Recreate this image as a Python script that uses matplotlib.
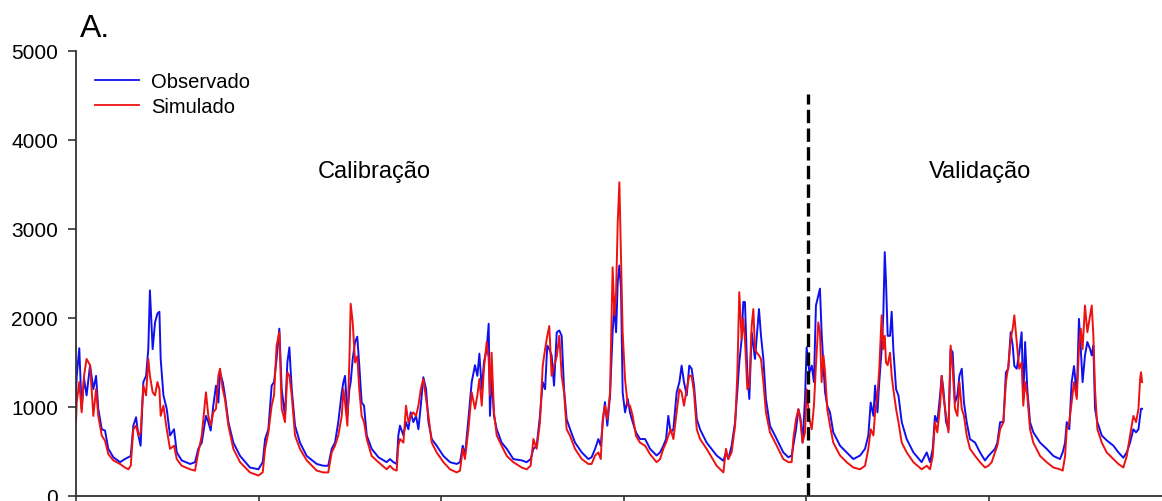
import matplotlib
matplotlib.use("Agg")
import matplotlib.pyplot as plt

# ---- data (day index since start of series) ----
days = [0, 4, 18, 31, 44, 58, 77, 95, 110, 122, 141, 159, 177, 205, 241, 268, 287, 300,
        314, 329, 342, 354, 369, 384, 396, 405, 420, 433, 446, 457, 464, 479, 497, 515, 537,
        552, 579, 625, 652, 670, 689, 712, 725, 738, 752, 767, 780, 789, 804, 816, 835, 862,
        899, 953, 999, 1023, 1036, 1054, 1072, 1085, 1099, 1114, 1127, 1145, 1158, 1169, 1182,
        1200, 1227, 1264, 1319, 1355, 1382, 1401, 1419, 1437, 1456,
        1465, 1474, 1487, 1498, 1505, 1516, 1529, 1541, 1552, 1565, 1578, 1593, 1620, 1657,
        1702, 1720, 1739, 1757, 1766, 1775, 1794, 1808, 1821, 1834, 1848, 1863, 1876, 1889,
        1903, 1918, 1931, 1949, 1976, 2013, 2049, 2086, 2104, 2119, 2131, 2150, 2168, 2186,
        2199, 2210, 2223, 2235, 2250, 2261, 2268, 2277, 2290, 2305, 2332, 2360, 2396, 2442,
        2469, 2491, 2506, 2524, 2542, 2557, 2570, 2582, 2593, 2606, 2619, 2634, 2648, 2661,
        2674, 2688, 2707, 2734, 2771, 2807, 2825, 2844, 2862, 2875, 2886, 2898, 2911, 2926,
        2940, 2950, 2959, 2968, 2977, 2986, 2995, 3008, 3023, 3035, 3050, 3068, 3090, 3118,
        3145, 3181, 3200, 3218, 3233, 3245, 3258, 3273, 3291, 3306, 3318, 3331, 3346, 3360,
        3373, 3386, 3401, 3419, 3455, 3510, 3547, 3561, 3574, 3592, 3611, 3623, 3634, 3647,
        3656, 3665, 3678, 3689, 3702, 3711, 3720, 3729, 3742, 3753, 3766, 3780, 3802, 3839,
        3875, 3903, 3921, 3930, 3945, 3958, 3970, 3981, 3994, 4003, 4018, 4031, 4043, 4054,
        4067, 4076, 4085, 4095, 4104, 4116, 4131, 4149, 4186, 4222, 4259,
        4296, 4323, 4341, 4354, 4369, 4378, 4391, 4401, 4414, 4423, 4431, 4438, 4447, 4460,
        4469, 4478, 4493, 4506, 4524, 4551, 4588, 4633, 4661, 4679, 4694, 4706, 4719, 4734,
        4743, 4752, 4767, 4780, 4792, 4803, 4816, 4829, 4840, 4853, 4865, 4880, 4898, 4926,
        4953, 4980, 4999, 5017, 5035, 5048, 5063, 5081, 5095, 5108, 5121, 5132, 5141, 5154,
        5168, 5181, 5190, 5200, 5212, 5227, 5245, 5282, 5318, 5355, 5391, 5406, 5419, 5428,
        5442, 5455, 5468, 5483, 5495, 5505, 5515, 5528, 5541, 5556, 5565, 5574, 5583, 5596,
        5620, 5647, 5684, 5711, 5738, 5757, 5775, 5793, 5808, 5821, 5830, 5835, 5841]

observado = [1130, 1350, 1660, 980, 1320, 1130, 1470, 1200, 1350, 980, 750, 735, 530, 435, 380, 415, 435, 450,
             790, 885, 680, 565, 1280, 1350, 1650, 2310, 1650, 1950, 2050, 2070, 1540, 1130, 980, 680, 750,
             490, 400, 360, 380, 530, 600, 900, 830, 735, 1015, 1240, 1050, 1390, 1280, 1130, 830, 600,
             450, 320, 300, 380, 640, 750, 1240, 1280, 1540, 1880, 1200, 900, 1500, 1670, 1200,
             790, 600, 450, 360, 340, 340, 530, 600, 830, 1165,
             1280, 1350, 900, 1200, 1280, 1540, 1730, 1790, 1470, 1050, 1015, 680, 530, 435,
             380, 415, 380, 360, 680, 790, 680, 830, 750, 940, 830, 900, 750, 1015,
             1335, 1200, 830, 640, 565, 450, 380, 360, 380, 565, 450, 865, 1280, 1470,
             1350, 1600, 1200, 1500, 1650, 1935, 900, 1350, 900, 750, 600, 530, 415, 400,
             380, 415, 530, 565, 900, 1280, 1200, 1690, 1650, 1580, 1240, 1840, 1860, 1800,
             1200, 865, 750, 600, 490, 415, 435, 530, 640, 565, 830, 1055, 790, 1130,
             1840, 2140, 1840, 2400, 2590, 2330, 1165, 940, 1090, 940, 830, 715, 640, 640,
             530, 455, 490, 565, 640, 900, 715, 750, 1165, 1280, 1465, 1280, 1130, 1465,
             1430, 1240, 865, 750, 600, 455, 395, 490, 415, 565, 830, 1165, 1500, 1765,
             2180, 2180, 1390, 1090, 1840, 1690, 1540, 1765, 2100, 1800, 1540, 1090, 790, 640,
             490, 435, 455, 565, 750, 975, 865, 600, 1090, 1670, 1390, 1465, 1280, 2140,
             2250, 2330, 1840, 1465, 1165, 1015, 940, 715, 565, 490, 415,
             455, 530, 680, 1050, 900, 1240, 940, 1280, 1650, 2030, 2740, 2400, 1800, 1800,
             2070, 1650, 1200, 1130, 830, 640, 490, 380, 490, 380, 530, 900, 830, 1130,
             1350, 1200, 830, 750, 1650, 1615, 1050, 1130, 1350, 1430, 1050, 830, 640, 600,
             490, 400, 450, 490, 530, 600, 830, 830, 1390, 1430, 1840, 1690, 1460, 1430,
             1610, 1840, 1090, 1730, 1200, 830, 715, 600, 530, 450, 415, 490, 600, 830,
             750, 1280, 1460, 1130, 1990, 1650, 1280, 1580, 1730, 1650, 1580, 1690, 980, 830,
             680, 625, 565, 490, 430, 490, 600, 750, 715, 750, 900, 980, 980]

simulado = [830, 1050, 1280, 940, 1350, 1540, 1470, 900, 1200, 900, 680, 620, 470, 400, 360, 320, 300, 340,
            750, 790, 680, 715, 1240, 1130, 1540, 1350, 1165, 1130, 1280, 1200, 900, 1015, 750, 530, 565,
            415, 340, 300, 285, 490, 680, 1165, 900, 790, 940, 980, 1350, 1430, 1200, 1090, 790, 530,
            380, 265, 230, 265, 530, 715, 1015, 1130, 1690, 1840, 980, 830, 1390, 1350, 1130,
            680, 530, 400, 285, 265, 265, 490, 565, 680, 900,
            1200, 1050, 790, 1540, 2160, 1950, 1500, 1570, 1200, 900, 830, 640, 450, 380,
            300, 340, 300, 285, 565, 640, 600, 1015, 830, 900, 940, 900, 1015, 1200,
            1315, 1090, 900, 600, 490, 380, 300, 265, 285, 530, 415, 750, 1165, 980,
            1130, 1315, 1015, 1430, 1730, 1540, 1130, 1610, 940, 680, 565, 450, 380, 320,
            300, 340, 640, 530, 830, 1460, 1650, 1800, 1910, 1350, 1460, 1570, 1800, 1350,
            1165, 750, 675, 530, 415, 360, 360, 455, 490, 415, 865, 1015, 865, 1165,
            2570, 2030, 2290, 3075, 3525, 2665, 1840, 1315, 1015, 1015, 900, 675, 600, 565,
            470, 380, 415, 530, 600, 675, 750, 640, 940, 1200, 1165, 1015, 1200, 1350,
            1350, 1165, 750, 640, 530, 340, 265, 530, 415, 490, 790, 1350, 2290, 1765,
            1990, 1765, 1200, 1240, 1915, 2100, 1650, 1615, 1580, 1540, 1280, 940, 715, 565,
            415, 380, 380, 640, 865, 975, 830, 600, 715, 1200, 865, 750, 1015, 1465,
            1950, 1840, 1280, 1580, 1390, 975, 790, 600, 455, 380, 320,
            300, 340, 530, 750, 680, 940, 1130, 1430, 2030, 1650, 1800, 1500, 1470, 1610,
            1350, 1200, 980, 830, 600, 490, 380, 300, 340, 300, 450, 830, 715, 1015,
            1350, 1130, 900, 715, 1690, 1430, 980, 900, 1280, 980, 900, 680, 530, 450,
            380, 320, 340, 380, 490, 565, 750, 830, 1280, 1460, 1765, 1880, 2030, 1730,
            1430, 1500, 1015, 1280, 1130, 750, 600, 450, 380, 320, 300, 285, 450, 750,
            830, 1050, 1280, 1090, 1650, 1880, 1650, 2140, 1840, 2030, 2140, 1800, 1200, 750,
            600, 490, 415, 360, 320, 450, 680, 900, 830, 980, 1315, 1390, 1280]

series_labels = ["Observado", "Simulado"]
period_labels = ["Calibração", "Validação"]
split_day = 4011
y_ticks = [0, 1000, 2000, 3000, 4000, 5000]
x_ticks = [0, 1000, 2000, 3000, 4000, 5000]

plt.rcParams['font.family'] = ['Liberation Sans', 'DejaVu Sans']

fig = plt.figure(figsize=(11.62, 5.02), dpi=100)
ax = fig.add_axes([76 / 1162, 5 / 502, 1086 / 1162, 445 / 502])

ax.plot(days, observado, color='#1010ee', lw=1.4, label=series_labels[0])
ax.plot(days, simulado, color='#ee1111', lw=1.4, label=series_labels[1])

ax.plot([split_day, split_day], [0, 4520], color='black', lw=2.4, dashes=(4, 1.6))

ax.set_xlim(0, 5950)
ax.set_ylim(0, 5000)
ax.set_yticks(y_ticks)
ax.set_yticklabels([str(v) for v in y_ticks], fontsize=15)
ax.set_xticks(x_ticks)
ax.set_xticklabels([])
ax.tick_params(axis='both', direction='out', length=5.8, width=1.2, color='#333333')
ax.tick_params(axis='y', pad=7)
for s in ['top', 'right']:
    ax.spines[s].set_visible(False)
for s in ['left', 'bottom']:
    ax.spines[s].set_linewidth(1.3)
    ax.spines[s].set_color('#333333')

ax.text(1633, 3650, period_labels[0], fontsize=17, ha='center', va='center')
ax.text(4953, 3650, period_labels[1], fontsize=17, ha='center', va='center')

leg = ax.legend(loc='upper left', bbox_to_anchor=(19 / 1086, 0.953), frameon=False,
                fontsize=14.5, handlelength=2.2, handletextpad=0.6, borderpad=0,
                borderaxespad=0, labelspacing=0.3)
for line in leg.get_lines():
    line.set_linewidth(1.3)

fig.text(80 / 1162, (502 - 37) / 502, "A.", fontsize=23, ha='left', va='baseline')

fig.savefig("out.png", dpi=100)
